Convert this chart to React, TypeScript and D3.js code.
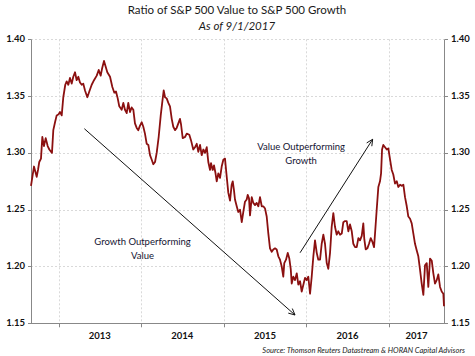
import React from "react";
import * as d3 from "d3";

const dates: number[] = [
  2012.667, 2012.703, 2012.736, 2012.752, 2012.767, 2012.788, 2012.804, 2012.824, 2012.845, 2012.869,
  2012.889, 2012.921, 2012.937, 2012.958, 2012.978, 2013.002, 2013.018, 2013.039, 2013.058, 2013.082,
  2013.099, 2013.119, 2013.139, 2013.160, 2013.179, 2013.200, 2013.220, 2013.240, 2013.260, 2013.281,
  2013.300, 2013.321, 2013.349, 2013.373, 2013.402, 2013.430, 2013.463, 2013.487, 2013.511, 2013.527,
  2013.551, 2013.567, 2013.591, 2013.624, 2013.652, 2013.676, 2013.696, 2013.717, 2013.736, 2013.765,
  2013.785, 2013.805, 2013.826, 2013.845, 2013.866, 2013.886, 2013.906, 2013.926, 2013.947, 2013.966,
  2013.987, 2014.008, 2014.027, 2014.047, 2014.068, 2014.088, 2014.108, 2014.129, 2014.148, 2014.169,
  2014.189, 2014.213, 2014.238, 2014.257, 2014.274, 2014.290, 2014.310, 2014.330, 2014.350, 2014.371,
  2014.390, 2014.411, 2014.431, 2014.451, 2014.471, 2014.484, 2014.504, 2014.532, 2014.553, 2014.584,
  2014.605, 2014.632, 2014.653, 2014.674, 2014.693, 2014.714, 2014.734, 2014.754, 2014.774, 2014.795,
  2014.814, 2014.835, 2014.847, 2014.867, 2014.883, 2014.899, 2014.916, 2014.935, 2014.956, 2014.976,
  2014.996, 2015.016, 2015.037, 2015.056, 2015.077, 2015.097, 2015.110, 2015.125, 2015.137, 2015.158,
  2015.177, 2015.198, 2015.219, 2015.238, 2015.258, 2015.279, 2015.291, 2015.307, 2015.319, 2015.340,
  2015.359, 2015.380, 2015.400, 2015.420, 2015.440, 2015.461, 2015.480, 2015.501, 2015.521, 2015.541,
  2015.561, 2015.582, 2015.601, 2015.622, 2015.642, 2015.662, 2015.682, 2015.703, 2015.722, 2015.734,
  2015.755, 2015.776, 2015.795, 2015.812, 2015.824, 2015.843, 2015.864, 2015.885, 2015.904, 2015.925,
  2015.945, 2015.965, 2015.985, 2016.006, 2016.025, 2016.046, 2016.066, 2016.086, 2016.106, 2016.127,
  2016.146, 2016.167, 2016.187, 2016.207, 2016.227, 2016.248, 2016.267, 2016.288, 2016.308, 2016.328,
  2016.348, 2016.369, 2016.388, 2016.409, 2016.430, 2016.449, 2016.470, 2016.490, 2016.510, 2016.530,
  2016.551, 2016.570, 2016.591, 2016.611, 2016.631, 2016.651, 2016.672, 2016.691, 2016.703, 2016.720,
  2016.740, 2016.760, 2016.781, 2016.800, 2016.821, 2016.833, 2016.853, 2016.873, 2016.893, 2016.906,
  2016.918, 2016.933, 2016.954, 2016.975, 2016.994, 2017.015, 2017.035, 2017.054, 2017.075, 2017.096,
  2017.115, 2017.136, 2017.156, 2017.176, 2017.196, 2017.217, 2017.236, 2017.257, 2017.277, 2017.297,
  2017.317, 2017.338, 2017.357, 2017.378, 2017.398, 2017.418, 2017.438, 2017.459, 2017.478, 2017.499,
  2017.520, 2017.539, 2017.559, 2017.580, 2017.599, 2017.620, 2017.640, 2017.660, 2017.668,
];

const ratio: number[] = [
  1.271, 1.288, 1.279, 1.285, 1.292, 1.295, 1.314, 1.306, 1.313, 1.306,
  1.303, 1.300, 1.320, 1.327, 1.333, 1.334, 1.336, 1.333, 1.349, 1.360,
  1.363, 1.360, 1.366, 1.361, 1.367, 1.371, 1.364, 1.367, 1.362, 1.360,
  1.361, 1.355, 1.349, 1.354, 1.360, 1.364, 1.368, 1.373, 1.368, 1.374,
  1.381, 1.377, 1.371, 1.367, 1.358, 1.353, 1.354, 1.348, 1.341, 1.338,
  1.344, 1.338, 1.335, 1.344, 1.336, 1.340, 1.338, 1.326, 1.322, 1.320,
  1.324, 1.327, 1.323, 1.317, 1.308, 1.307, 1.298, 1.294, 1.290, 1.292,
  1.300, 1.314, 1.333, 1.345, 1.355, 1.349, 1.348, 1.344, 1.341, 1.330,
  1.323, 1.320, 1.322, 1.326, 1.330, 1.325, 1.313, 1.314, 1.317, 1.316,
  1.311, 1.303, 1.305, 1.308, 1.301, 1.307, 1.298, 1.303, 1.300, 1.305,
  1.292, 1.285, 1.291, 1.285, 1.289, 1.283, 1.275, 1.282, 1.278, 1.288,
  1.294, 1.295, 1.279, 1.265, 1.258, 1.272, 1.275, 1.267, 1.259, 1.253,
  1.248, 1.250, 1.239, 1.248, 1.257, 1.259, 1.263, 1.260, 1.245, 1.261,
  1.256, 1.254, 1.256, 1.253, 1.261, 1.253, 1.253, 1.251, 1.244, 1.229,
  1.216, 1.213, 1.215, 1.216, 1.215, 1.209, 1.206, 1.200, 1.191, 1.203,
  1.206, 1.212, 1.207, 1.198, 1.185, 1.191, 1.188, 1.194, 1.184, 1.187,
  1.178, 1.184, 1.190, 1.188, 1.191, 1.176, 1.191, 1.209, 1.223, 1.212,
  1.206, 1.206, 1.220, 1.228, 1.220, 1.203, 1.198, 1.212, 1.235, 1.247,
  1.235, 1.228, 1.231, 1.228, 1.229, 1.239, 1.240, 1.240, 1.231, 1.237,
  1.231, 1.220, 1.217, 1.217, 1.225, 1.223, 1.227, 1.238, 1.224, 1.215,
  1.216, 1.220, 1.225, 1.222, 1.217, 1.229, 1.250, 1.270, 1.275, 1.282,
  1.303, 1.307, 1.305, 1.303, 1.304, 1.294, 1.285, 1.281, 1.273, 1.275,
  1.270, 1.272, 1.271, 1.272, 1.261, 1.253, 1.244, 1.242, 1.238, 1.229,
  1.220, 1.214, 1.209, 1.197, 1.185, 1.175, 1.201, 1.203, 1.182, 1.207,
  1.205, 1.194, 1.185, 1.188, 1.193, 1.182, 1.178, 1.176, 1.165,
];

const yTicks: number[] = [1.15, 1.2, 1.25, 1.3, 1.35, 1.4];
const yearTicks: number[] = [2013, 2014, 2015, 2016, 2017];
const yearLabels: string[] = ["2013", "2014", "2015", "2016", "2017"];

const title = "Ratio of S&P 500 Value to S&P 500 Growth";
const subtitle = "As of 9/1/2017";
const source = "Source: Thomson Reuters Datastream & HORAN Capital Advisors";

// annotations in data coordinates
const arrowGrowth = { from: [2013.313, 1.3213], to: [2015.864, 1.1573] };
const arrowValue = { from: [2015.925, 1.2121], to: [2016.804, 1.312] };
const labelGrowth = { at: [2014.018, 1.2204], lines: ["Growth Outperforming", "Value"] };
const labelValue = { at: [2015.938, 1.304], lines: ["Value Outperforming", "Growth"] };

const W = 475;
const H = 356;
const left = 31;
const right = 444;
const top = 39.3;
const bottom = 323.3;
const FONT = "Lato, 'Open Sans', sans-serif";

export default function App() {
  const x = d3.scaleLinear().domain([2012.667, 2017.668]).range([left, right]);
  const y = d3.scaleLinear().domain([1.15, 1.4]).range([bottom, top]);
  const pts = dates.map((d, i) => [d, ratio[i]] as [number, number]);
  const line = d3
    .line<[number, number]>()
    .x((d) => x(d[0]))
    .y((d) => y(d[1]));

  const [d0, d1] = x.domain();

  const arrow = (a: { from: number[]; to: number[] }, key: string) => {
    const x1 = x(a.from[0]);
    const y1 = y(a.from[1]);
    const x2 = x(a.to[0]);
    const y2 = y(a.to[1]);
    const ang = Math.atan2(y2 - y1, x2 - x1);
    const L = 7;
    const spread = 0.45;
    const h1 = [x2 - L * Math.cos(ang - spread), y2 - L * Math.sin(ang - spread)];
    const h2 = [x2 - L * Math.cos(ang + spread), y2 - L * Math.sin(ang + spread)];
    return (
      <g key={key} stroke="#111" strokeWidth={1} fill="none">
        <line x1={x1} y1={y1} x2={x2} y2={y2} />
        <polyline points={`${h1[0]},${h1[1]} ${x2},${y2} ${h2[0]},${h2[1]}`} />
      </g>
    );
  };

  const label = (l: { at: number[]; lines: string[] }, key: string) => (
    <text
      key={key}
      x={x(l.at[0])}
      y={y(l.at[1])}
      textAnchor="middle"
      fontFamily={FONT}
      fontSize={9.5}
      fill="#141432"
      dominantBaseline="middle"
    >
      {l.lines.map((s, i) => (
        <tspan key={i} x={x(l.at[0])} dy={i === 0 ? 0 : 14}>
          {s}
        </tspan>
      ))}
    </text>
  );

  return (
    <svg
      width={W}
      height={H}
      style={{ position: "absolute", left: 0, top: 0, background: "#fff" }}
    >
      <rect x={0} y={0} width={W} height={H} fill="#fff" />
      {/* title */}
      <text x={237} y={11} textAnchor="middle" dominantBaseline="middle" fontFamily={FONT} fontSize={11.5} fill="#1a1a1a">
        {title}
      </text>
      <text x={237} y={27} textAnchor="middle" dominantBaseline="middle" fontFamily={FONT} fontStyle="italic" fontSize={11.5} fill="#1a1a1a">
        {subtitle}
      </text>

      {/* grid */}
      <g stroke="#d9d9d9" strokeWidth={1} strokeDasharray="2,2">
        {yTicks.slice(1).map((t) => (
          <line key={"gy" + t} x1={left} x2={right} y1={Math.round(y(t)) + 0.5} y2={Math.round(y(t)) + 0.5} />
        ))}
        {yearTicks.map((t) => (
          <line key={"gx" + t} x1={Math.round(x(t)) + 0.5} x2={Math.round(x(t)) + 0.5} y1={top} y2={bottom} />
        ))}
      </g>

      {/* axes */}
      <g stroke="#888" strokeWidth={1} fill="none">
        <line x1={left + 0.5} x2={left + 0.5} y1={top} y2={bottom} />
        <line x1={right + 0.5} x2={right + 0.5} y1={top} y2={bottom} />
        <line x1={left} x2={right + 1} y1={Math.round(bottom) + 0.5} y2={Math.round(bottom) + 0.5} />
        {yTicks.map((t) => (
          <g key={"yt" + t}>
            <line x1={left - 3} x2={left} y1={Math.round(y(t)) + 0.5} y2={Math.round(y(t)) + 0.5} />
            <line x1={right + 1} x2={right + 4} y1={Math.round(y(t)) + 0.5} y2={Math.round(y(t)) + 0.5} />
          </g>
        ))}
        {yearTicks.map((t) => (
          <line key={"xt" + t} x1={Math.round(x(t)) + 0.5} x2={Math.round(x(t)) + 0.5} y1={bottom} y2={bottom + 4} />
        ))}
      </g>

      {/* tick labels */}
      <g fontFamily={FONT} fontWeight="bold" fontSize={9.5} fill="#111">
        {yTicks.map((t) => (
          <text key={"yl" + t} x={left - 6} y={y(t)} textAnchor="end" dominantBaseline="middle">
            {d3.format(".2f")(t)}
          </text>
        ))}
        {yTicks.map((t) => (
          <text key={"yr" + t} x={right + 7} y={y(t)} textAnchor="start" dominantBaseline="middle">
            {d3.format(".2f")(t)}
          </text>
        ))}
        {yearTicks.map((t, i) => {
          const a = Math.max(t, d0);
          const b = Math.min(t + 1, d1);
          return (
            <text key={"xl" + t} x={x((a + b) / 2)} y={bottom + 13} textAnchor="middle" dominantBaseline="middle">
              {yearLabels[i]}
            </text>
          );
        })}
      </g>

      {/* data line */}
      <path d={line(pts) || ""} fill="none" stroke="#8b1010" strokeWidth={1.8} strokeLinejoin="round" />

      {/* annotations */}
      {arrow(arrowGrowth, "a1")}
      {arrow(arrowValue, "a2")}
      {label(labelGrowth, "l1")}
      {label(labelValue, "l2")}

      <text x={465} y={351.5} textAnchor="end" dominantBaseline="middle" fontFamily={FONT} fontStyle="italic" fontSize={7.5} fill="#222">
        {source}
      </text>
    </svg>
  );
}
